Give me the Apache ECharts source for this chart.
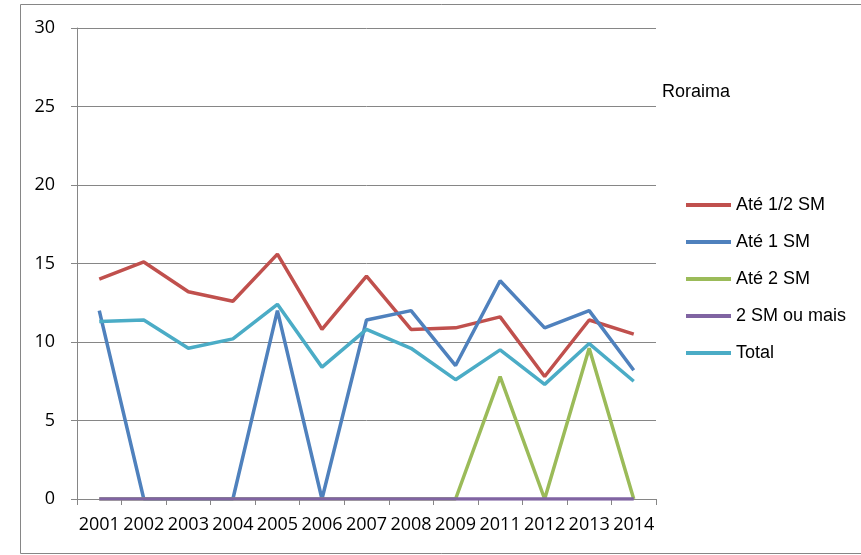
<!DOCTYPE html>
<html>
<head>
<meta charset="utf-8">
<script src="https://cdn.jsdelivr.net/npm/echarts@6/dist/echarts.min.js"></script>
<style>html,body{margin:0;padding:0;background:#fff}#c{width:861px;height:555px}</style>
</head>
<body>
<div id="c"></div>
<script>
const categories = ['2001','2002','2003','2004','2005','2006','2007','2008','2009','2011','2012','2013','2014'];
const ate12SM = [14.0, 15.1, 13.2, 12.6, 15.6, 10.8, 14.2, 10.8, 10.9, 11.6, 7.8, 11.4, 10.5];
const ate1SM  = [12.0, 0, 0, 0, 12.0, 0, 11.4, 12.0, 8.5, 13.9, 10.9, 12.0, 8.2];
const ate2SM  = [0, 0, 0, 0, 0, 0, 0, 0, 0, 7.8, 0, 9.6, 0];
const sm2Mais = [0, 0, 0, 0, 0, 0, 0, 0, 0, 0, 0, 0, 0];
const total   = [11.3, 11.4, 9.6, 10.2, 12.4, 8.4, 10.8, 9.6, 7.6, 9.5, 7.3, 9.9, 7.5];
const yTicks = [0, 5, 10, 15, 20, 25, 30];
const title = 'Roraima';

const font = '"Liberation Sans", Arial, sans-serif';
const xfont = '"Open Sans", "Liberation Sans", sans-serif';
const gray = '#868686';
function mk(name, data, color) {
  return { name, type: 'line', data, symbol: 'none', color,
    lineStyle: { width: 3.5, color }, itemStyle: { color } };
}
const chart = echarts.init(document.getElementById('c'));
chart.setOption({
  animation: false,
  backgroundColor: '#fff',
  graphic: [
    { type: 'rect', shape: { x: 20.5, y: 4.5, width: 900, height: 549 },
      style: { fill: 'none', stroke: gray, lineWidth: 1 } },
    { type: 'text', left: 662, top: 83,
      style: { text: title, font: '18px ' + font, fill: '#000' } }
  ],
  grid: { left: 77, right: 205, top: 28, bottom: 56, containLabel: false },
  legend: {
    orient: 'vertical', left: 686, top: 195, padding: 0,
    itemWidth: 45, itemHeight: 4, itemGap: 17,
    icon: 'rect',
    textStyle: { fontFamily: font, fontSize: 18, color: '#000', lineHeight: 20 },
    data: ['Até 1/2 SM', 'Até 1 SM', 'Até 2 SM', '2 SM ou mais', 'Total']
  },
  xAxis: {
    type: 'category', data: categories, boundaryGap: true,
    axisLine: { lineStyle: { color: gray, width: 1 } },
    axisTick: { show: true, length: 6, alignWithLabel: false, lineStyle: { color: gray } },
    axisLabel: { interval: 0, fontFamily: xfont, fontSize: 18, color: '#000', margin: 17 }
  },
  yAxis: {
    type: 'value', min: yTicks[0], max: yTicks[yTicks.length - 1], interval: 5,
    axisLine: { show: true, lineStyle: { color: gray, width: 1 } },
    axisTick: { show: true, length: 6, lineStyle: { color: gray } },
    splitLine: { lineStyle: { color: gray, width: 1 } },
    axisLabel: { fontFamily: xfont, fontSize: 18, color: '#000', margin: 22 }
  },
  series: [
    mk('Até 1/2 SM', ate12SM, '#C0504D'),
    mk('Até 1 SM', ate1SM, '#4F81BD'),
    mk('Até 2 SM', ate2SM, '#9BBB59'),
    mk('2 SM ou mais', sm2Mais, '#8064A2'),
    mk('Total', total, '#4BACC6')
  ]
});
</script>
</body>
</html>
